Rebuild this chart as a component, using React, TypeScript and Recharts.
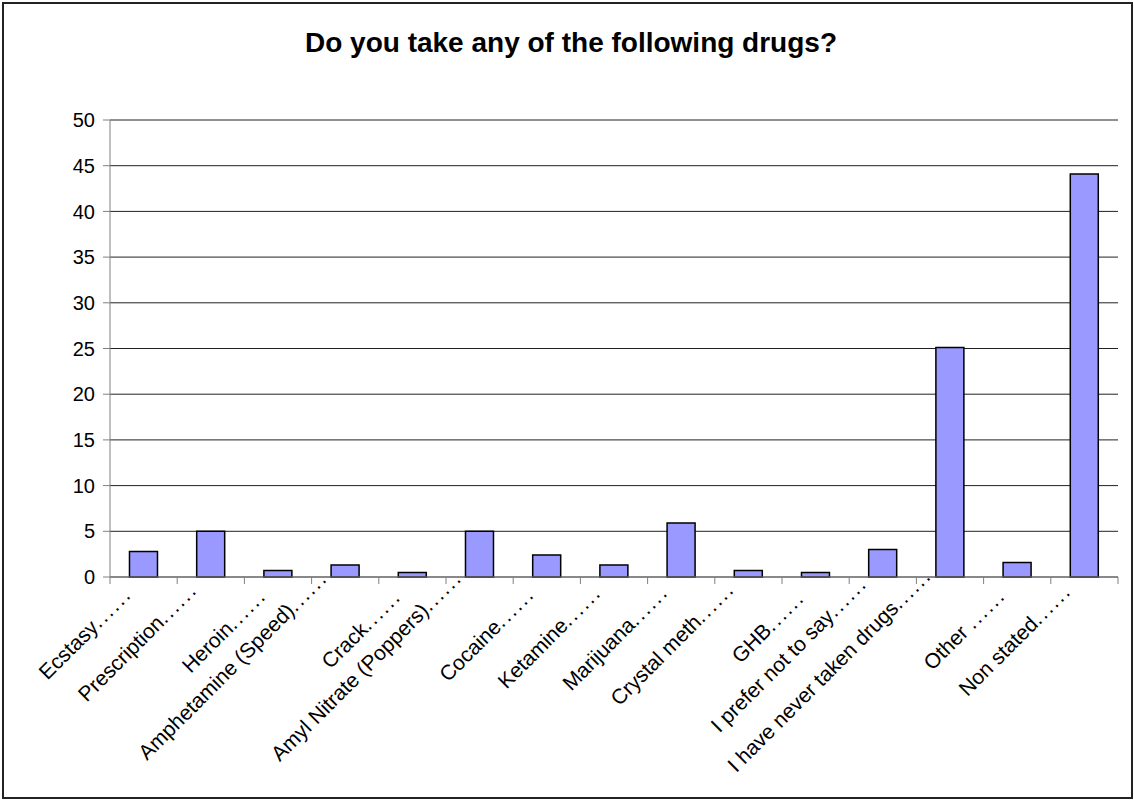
import { Bar, BarChart, CartesianGrid, XAxis, YAxis } from "recharts";

const categories = [
  "Ecstasy",
  "Prescription",
  "Heroin",
  "Amphetamine (Speed)",
  "Crack",
  "Amyl Nitrate (Poppers)",
  "Cocaine",
  "Ketamine",
  "Marijuana",
  "Crystal meth",
  "GHB",
  "I prefer not to say",
  "I have never taken drugs",
  "Other  ",
  "Non stated",
];
const values = [2.8, 5, 0.7, 1.3, 0.5, 5, 2.4, 1.3, 5.9, 0.7, 0.5, 3, 25.1, 1.6, 44.1];
const yTicks = [0, 5, 10, 15, 20, 25, 30, 35, 40, 45, 50];
const DOTS = "......";

const data = categories.map((name, i) => ({ name, value: values[i] }));

const FONT = "'Liberation Sans', Arial, sans-serif";
const LABEL_SIZE = 21;
const DOT_SPACING = 2;
const W = 1134;
const H = 800;
const MARGIN = { top: 120, right: 16, bottom: 0, left: 0 };
const Y_AXIS_W = 110;
const TICK = 7;

let ctx: CanvasRenderingContext2D | null = null;
function textWidth(s: string) {
  if (!ctx) ctx = document.createElement("canvas").getContext("2d");
  if (!ctx) return s.length * LABEL_SIZE * 0.5;
  ctx.font = `${LABEL_SIZE}px ${FONT}`;
  return ctx.measureText(s).width;
}

// labels rotated -45; tick marks drawn on the category boundaries like Excel does
function RotatedTick({ x, y, payload, index }: {
  x?: number; y?: number; payload?: { value: string }; index?: number;
}) {
  if (x === undefined || y === undefined || !payload) return null;
  const band = (W - MARGIN.right - Y_AXIS_W) / categories.length;
  const axisY = y - TICK - 2;
  const len = textWidth(payload.value) + textWidth(DOTS) + DOTS.length * DOT_SPACING;
  const ex = x - 6 - 0.04 * len;
  const ey = y + 24 - 0.12 * len;
  const isLast = index === categories.length - 1;
  return (
    <g>
      <line x1={x - band / 2} x2={x - band / 2} y1={axisY} y2={axisY + TICK} stroke="#808080" />
      {isLast && (
        <line x1={x + band / 2} x2={x + band / 2} y1={axisY} y2={axisY + TICK} stroke="#808080" />
      )}
      <g transform={`translate(${ex},${ey})`}>
        <text
          transform="rotate(-45)"
          textAnchor="end"
          fontSize={LABEL_SIZE}
          fontFamily={FONT}
          fill="#000"
        >
          {payload.value}
          <tspan letterSpacing={DOT_SPACING}>{DOTS}</tspan>
        </text>
      </g>
    </g>
  );
}

export default function App() {
  return (
    <div
      style={{
        position: "absolute", left: 0, top: 0, width: W, height: H,
        background: "#fff", fontFamily: FONT,
      }}
    >
      <div
        style={{
          position: "absolute", left: 2, top: 2, width: 1127, height: 793,
          border: "2px solid #222",
        }}
      />
      <div
        style={{
          position: "absolute", left: 4, top: 27, width: W, textAlign: "center",
          fontSize: 28, fontWeight: "bold", color: "#000", lineHeight: "normal",
        }}
      >
        Do you take any of the following drugs?
      </div>
      <div style={{ position: "absolute", left: 0, top: 0 }}>
        <BarChart
          width={W}
          height={H}
          data={data}
          margin={MARGIN}
          barCategoryGap="29%"
        >
          <CartesianGrid vertical={false} horizontal stroke="#222" strokeWidth={1} />
          <XAxis
            dataKey="name"
            interval={0}
            height={223}
            stroke="#808080"
            tickSize={TICK}
            tickLine={{ stroke: "none" }}
            tick={<RotatedTick />}
          />
          <YAxis
            domain={[0, 50]}
            ticks={yTicks}
            width={Y_AXIS_W}
            stroke="#808080"
            tickSize={TICK}
            tickMargin={8}
            tick={{ fontSize: 20, fill: "#000", fontFamily: FONT }}
          />
          <Bar
            dataKey="value"
            fill="#9999FF"
            stroke="#000"
            strokeWidth={1.5}
            isAnimationActive={false}
          />
        </BarChart>
      </div>
    </div>
  );
}
